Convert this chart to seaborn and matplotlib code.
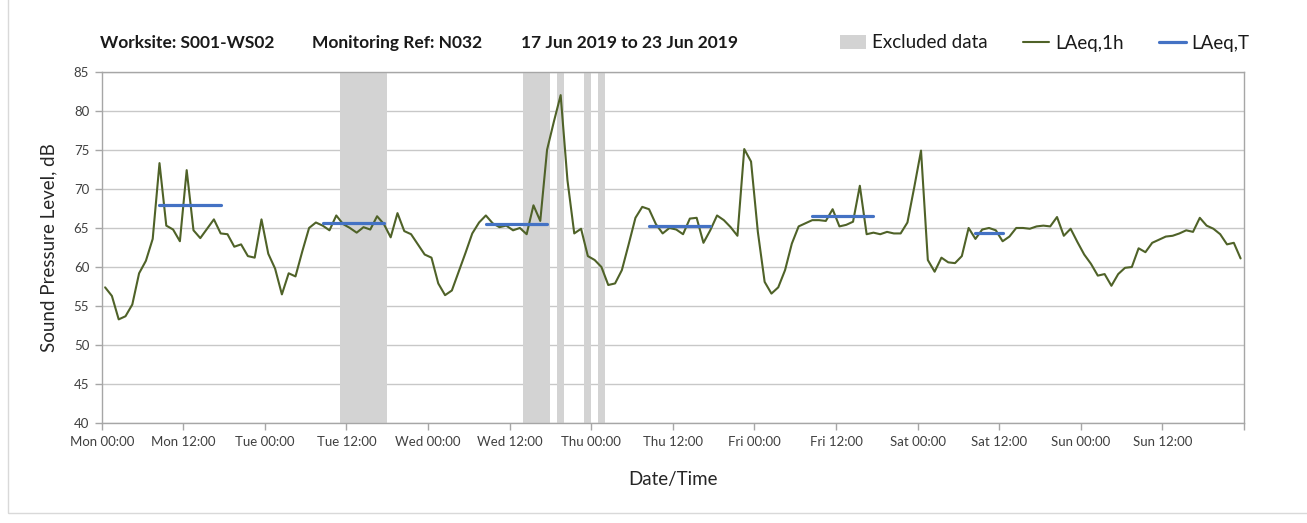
import numpy as np
import pandas as pd
import matplotlib
matplotlib.use("Agg")
import matplotlib.pyplot as plt
import seaborn as sns
from matplotlib.patches import Patch, Rectangle
from matplotlib.lines import Line2D

# ---------------- data ----------------
days = ["Mon", "Tue", "Wed", "Thu", "Fri", "Sat", "Sun"]
tick_labels = [f"{d} {h}" for d in days for h in ("00:00", "12:00")]

laeq_1h = [
    57.4, 56.3, 53.3, 53.7, 55.2, 59.2, 60.8, 63.6, 73.3, 65.3,
    64.8, 63.3, 72.4, 64.7, 63.7, 64.9, 66.1, 64.3, 64.2, 62.6,
    62.9, 61.4, 61.2, 66.1, 61.7, 59.8, 56.5, 59.2, 58.8, 62.0,
    65.0, 65.7, 65.3, 64.7, 66.6, 65.5, 65.0, 64.4, 65.1, 64.8,
    66.5, 65.5, 63.8, 66.9, 64.6, 64.2, 62.9, 61.6, 61.2, 57.9,
    56.4, 57.0, 59.4, 61.8, 64.3, 65.7, 66.6, 65.6, 65.1, 65.3,
    64.7, 65.0, 64.2, 67.9, 65.9, 75.0, 78.6, 82.0, 71.1, 64.3,
    64.9, 61.4, 60.9, 60.0, 57.7, 57.9, 59.6, 62.9, 66.3, 67.7,
    67.4, 65.5, 64.3, 65.0, 64.8, 64.2, 66.2, 66.3, 63.1, 64.7,
    66.6, 66.0, 65.1, 64.0, 75.1, 73.5, 64.5, 58.1, 56.6, 57.4,
    59.6, 63.0, 65.2, 65.6, 66.0, 66.0, 65.9, 67.4, 65.2, 65.4,
    65.8, 70.4, 64.2, 64.4, 64.2, 64.5, 64.3, 64.3, 65.7, 70.2,
    74.9, 60.9, 59.4, 61.2, 60.6, 60.5, 61.4, 65.0, 63.6, 64.8,
    65.0, 64.7, 63.3, 63.9, 65.0, 65.0, 64.9, 65.2, 65.3, 65.2,
    66.4, 64.0, 64.9, 63.2, 61.6, 60.4, 58.9, 59.1, 57.6, 59.1,
    59.9, 60.0, 62.4, 61.9, 63.1, 63.5, 63.9, 64.0, 64.3, 64.7,
    64.5, 66.3, 65.3, 64.9, 64.2, 62.9, 63.1, 61.1,
]

excluded_hours = [35, 36, 37, 38, 39, 40, 41, 62, 63, 64, 65, 67, 71, 73]

laeq_t_start = [8, 32, 56, 80, 104, 128]
laeq_t_end = [17, 41, 65, 89, 113, 132]
laeq_t_value = [68.0, 65.6, 65.5, 65.3, 66.5, 64.3]

# ---------------- style ----------------
sns.set_theme(style="white")
plt.rcParams["font.family"] = ["Lato", "DejaVu Sans"]

GREEN = "#4F6228"
BLUE = "#4472C4"
GREY = "#D3D3D3"
AXC = "#A6A6A6"

W, H = 1307, 523
fig = plt.figure(figsize=(W / 100, H / 100), dpi=100)
fig.patch.set_facecolor("white")
ax = fig.add_axes([101.7 / W, 1 - 423.3 / H, (1244 - 101.7) / W, (423.3 - 71.7) / H])

# outer chart border
fig.add_artist(Rectangle((8 / W, 1 - 513 / H), 1.0, 1.0, transform=fig.transFigure,
                         fill=False, edgecolor="#D9D9D9", lw=1.0))

# excluded-data bands
for h in excluded_hours:
    ax.axvspan(h, h + 1, color=GREY, lw=0, zorder=1)

# hourly LAeq
df = pd.DataFrame({"t": np.arange(len(laeq_1h)) + 0.5, "v": laeq_1h})
sns.lineplot(data=df, x="t", y="v", ax=ax, color=GREEN, lw=1.5, zorder=3, legend=False)

# period LAeq,T
rows = []
for i, (s, e, v) in enumerate(zip(laeq_t_start, laeq_t_end, laeq_t_value)):
    for k in range(s, e + 1):
        rows.append({"t": k + 0.5, "v": v, "period": i})
dft = pd.DataFrame(rows)
sns.lineplot(data=dft, x="t", y="v", units="period", estimator=None, ax=ax,
             color=BLUE, lw=2.3, zorder=4, legend=False)

# axes
ax.set_xlim(0, 168)
ax.set_ylim(40, 85)
ax.set_yticks(np.arange(40, 86, 5))
ax.set_xticks(np.arange(0, 169, 12))
ax.set_xticklabels(tick_labels + [""], fontsize=9.5, color="#404040")
ax.set_xticks(np.arange(0, 169, 24), minor=True)
ax.tick_params(axis="y", labelsize=9.5, labelcolor="#404040")
ax.tick_params(axis="both", which="major", direction="out", length=5, width=1,
               color=AXC, bottom=True, left=True, pad=4)
ax.tick_params(axis="x", which="minor", length=0)
ax.yaxis.grid(True, color="#C8C8C8", lw=1.0, zorder=0)
ax.xaxis.grid(True, which="minor", color="#E3E3E3", lw=1.2, zorder=0)
ax.xaxis.grid(False, which="major")
ax.set_axisbelow(True)
for sp in ax.spines.values():
    sp.set_visible(True)
    sp.set_color(AXC)
    sp.set_linewidth(1.0)

ax.set_ylabel("Sound Pressure Level, dB", fontsize=13.5, color="#262626", labelpad=12)
ax.set_xlabel("Date/Time", fontsize=13.5, color="#262626", labelpad=17)

# title
ty = 1 - 43 / H
tkw = dict(fontsize=12.5, fontweight="bold", va="center", color="#1a1a1a")
fig.text(100 / W, ty, "Worksite: S001-WS02", **tkw)
fig.text(312 / W, ty, "Monitoring Ref: N032", **tkw)
fig.text(521 / W, ty, "17 Jun 2019 to 23 Jun 2019", **tkw)

# legend
handles = [Patch(facecolor=GREY, edgecolor="none"),
           Line2D([], [], color=GREEN, lw=1.5),
           Line2D([], [], color=BLUE, lw=2.3)]
labels = ["Excluded data", "LAeq,1h", "LAeq,T"]
fig.legend(handles, labels, loc="center left", bbox_to_anchor=(840 / W, ty), ncol=3,
           frameon=False, fontsize=13.5, handlelength=1.4, handletextpad=0.3,
           columnspacing=1.9, borderpad=0, borderaxespad=0, labelcolor="#1a1a1a")

fig.savefig("out.png", dpi=100, facecolor="white")
